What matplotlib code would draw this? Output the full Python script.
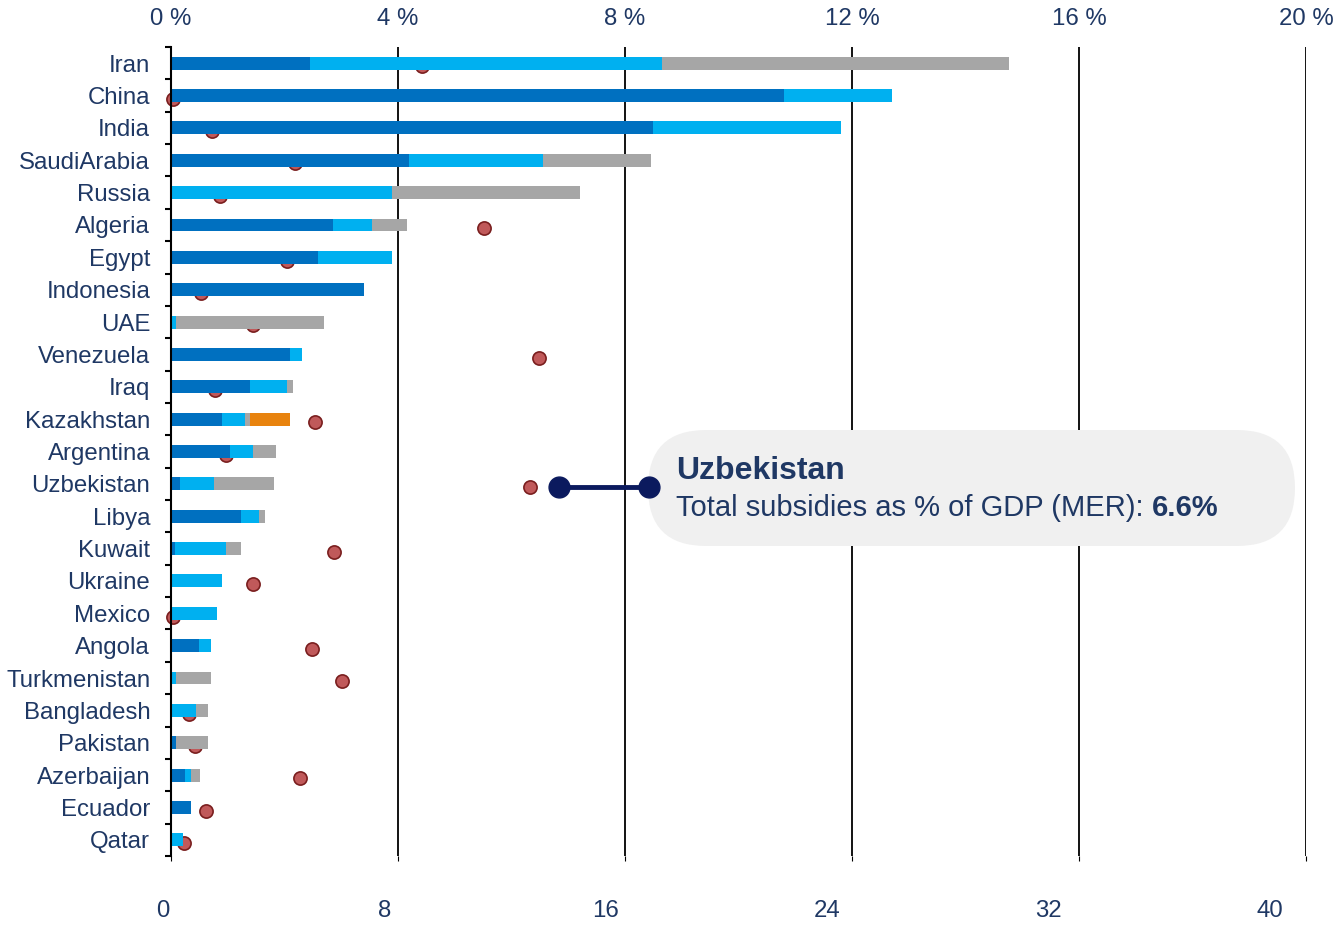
import numpy as np
import matplotlib
matplotlib.use("Agg")
import matplotlib.pyplot as plt
from matplotlib.patches import FancyBboxPatch
from matplotlib.transforms import IdentityTransform
from matplotlib.lines import Line2D
from matplotlib.text import Annotation

plt.rcParams['font.family'] = ['Liberation Sans', 'DejaVu Sans']

countries = ['Iran', 'China', 'India', 'SaudiArabia', 'Russia', 'Algeria', 'Egypt',
             'Indonesia', 'UAE', 'Venezuela', 'Iraq', 'Kazakhstan', 'Argentina',
             'Uzbekistan', 'Libya', 'Kuwait', 'Ukraine', 'Mexico', 'Angola',
             'Turkmenistan', 'Bangladesh', 'Pakistan', 'Azerbaijan', 'Ecuador', 'Qatar']

# subsidies by fuel (bottom axis units)
oil = [4.89, 21.60, 16.99, 8.39, 0.00, 5.71, 5.18, 6.80, 0.00, 4.20, 2.78, 1.79, 2.08,
       0.31, 2.47, 0.14, 0.00, 0.00, 0.99, 0.00, 0.00, 0.17, 0.49, 0.71, 0.00]
electricity = [12.41, 3.81, 6.61, 4.71, 7.79, 1.37, 2.61, 0.00, 0.17, 0.41, 1.31, 0.82, 0.81,
               1.20, 0.63, 1.79, 1.79, 1.62, 0.43, 0.17, 0.88, 0.00, 0.22, 0.00, 0.42]
gas = [12.23, 0.00, 0.00, 3.81, 6.62, 1.24, 0.00, 0.00, 5.23, 0.00, 0.21, 0.16, 0.81,
       2.12, 0.22, 0.54, 0.00, 0.00, 0.00, 1.25, 0.42, 1.13, 0.31, 0.00, 0.00]
coal = [0, 0, 0, 0, 0, 0, 0, 0, 0, 0, 0, 1.43, 0,
        0, 0, 0, 0, 0, 0, 0, 0, 0, 0, 0, 0]

# total subsidies as % of GDP (top axis)
pct_gdp = [4.43, 0.03, 0.72, 2.18, 0.86, 5.51, 2.04, 0.52, 1.45, 6.48, 0.77, 2.53, 0.97,
           6.33, np.nan, 2.87, 1.45, 0.03, 2.48, 3.01, 0.32, 0.42, 2.28, 0.61, 0.23]

bottom_ticks = [0, 8, 16, 24, 32, 40]
top_ticks = [0, 4, 8, 12, 16, 20]
top_labels = ['0 %', '4 %', '8 %', '12 %', '16 %', '20 %']

navy = '#1F3864'
fs = 17.3
W, H = 1337, 926

fig = plt.figure(figsize=(W / 100, H / 100), dpi=100)
ax = fig.add_axes([171 / W, (H - 856) / H, (1306 - 171) / W, (856 - 47) / H])

y = np.arange(len(countries))
left = np.zeros(len(countries))
for vals, col in [(oil, '#0070C0'), (electricity, '#00B0F0'), (gas, '#A6A6A6'), (coal, '#E8830E')]:
    ax.barh(y, vals, left=left, height=0.4, color=col, zorder=3)
    left += np.array(vals)

ax.set_xlim(0, 40)
ax.set_ylim(len(countries) - 0.5, -0.5)
ax.set_xticks(bottom_ticks)
ax.grid(axis='x', color='black', linewidth=1.3, zorder=1)
ax.tick_params(axis='x', bottom=False, labelbottom=False)
for s in ['top', 'right', 'bottom']:
    ax.spines[s].set_visible(False)
ax.spines['left'].set_linewidth(1.5)
ax.spines['left'].set_zorder(4)

ax.set_yticks(y)
ax.set_yticklabels(countries, fontsize=fs, color=navy)
ax.set_yticks(np.arange(-0.5, len(countries), 1), minor=True)
ax.tick_params(axis='y', which='major', length=0, pad=15)
ax.tick_params(axis='y', which='minor', length=4, width=1.5, color='black')

# percent of GDP dots on the top axis
ax2 = ax.twiny()
ax2.set_xlim(0, 20)
ax2.plot(pct_gdp, y + 0.1, 'o', ms=9.5, mfc='#C0595A', mec='#7A1F1F', mew=1.2, ls='none',
         clip_on=False)
ax2.set_xticks(top_ticks)
ax2.set_xticklabels(top_labels, fontsize=fs, color=navy)
ax2.tick_params(axis='x', length=0, pad=20)
for lab in ax2.get_xticklabels():
    lab.set_va('center')
for s in ax2.spines.values():
    s.set_visible(False)
ax.set_zorder(ax2.get_zorder() + 1)
ax.patch.set_visible(False)

# bottom value labels
axb = fig.add_axes([163 / W, (H - 911) / H, (1270 - 163) / W, 0.0001])
axb.set_xlim(0, 40)
axb.set_xticks(bottom_ticks)
axb.set_xticklabels([str(t) for t in bottom_ticks], fontsize=fs, color=navy)
axb.tick_params(axis='x', length=0, pad=0)
axb.set_yticks([])
for lab in axb.get_xticklabels():
    lab.set_va('center')
for s in axb.spines.values():
    s.set_visible(False)
axb.patch.set_visible(False)

# tooltip for Uzbekistan
box = FancyBboxPatch((648, H - 546), 647, 116, boxstyle="round,pad=0,rounding_size=58",
                     transform=IdentityTransform(), fc='#F0F0F0', ec='none', zorder=5)
fig.add_artist(box)
ix = countries.index('Uzbekistan')
fig.add_artist(Line2D([13.67, 16.85], [ix + 0.1, ix + 0.1], transform=ax.transData,
                      color='#0B1A5E', lw=3.5, marker='o', ms=15, zorder=6))
t1 = fig.text(676 / W, (H - 471) / H, 'Uzbekistan', fontsize=23, fontweight='bold',
              color=navy, va='center', ha='left', zorder=7)
t2 = fig.text(676 / W, (H - 508) / H, 'Total subsidies as % of GDP (MER): ', fontsize=21,
              color=navy, va='center', ha='left', zorder=7)
fig.add_artist(Annotation('6.6%', xy=(1, 0), xycoords=t2, fontsize=21, fontweight='bold',
                          color=navy, ha='left', va='bottom', zorder=7))

fig.savefig('out.png', dpi=100)
